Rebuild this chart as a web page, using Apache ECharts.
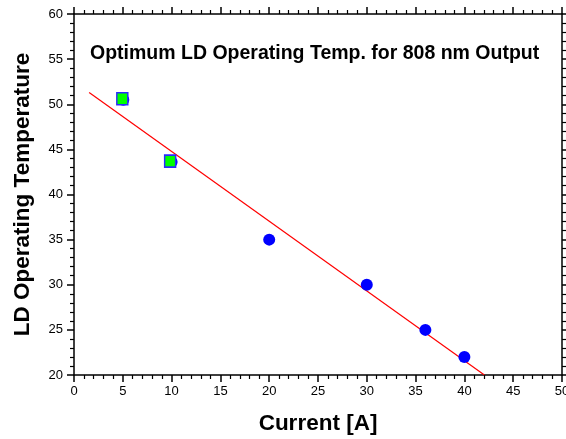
<!DOCTYPE html>
<html>
<head>
<meta charset="utf-8">
<script src="https://cdn.jsdelivr.net/npm/echarts@6/dist/echarts.min.js"></script>
<style>
    html, body { margin: 0; padding: 0; background: #fff; }
    #ldChart { width: 566px; height: 439px; }
</style>
</head>
<body>
<div id="ldChart"></div>
<script>
// 测量点 (电流, 温度)
var circlePoints = [[5.05, 50.5], [10, 43.6], [20, 35], [30, 30], [36, 25], [40, 22]];
var squarePoints = [[4.95, 50.6], [9.85, 43.7]];
// 拟合直线两端
var fitLine = [[1.55, 51.3], [42.05, 20]];
var xTicks = [0, 50, 5];
var yTicks = [20, 60, 5];

var chartTitle = 'Optimum LD Operating Temp. for 808 nm Output';
var xName = 'Current [A]';
var yName = 'LD Operating Temperature';

function ldTempChart() {
    var chart = echarts.init(document.getElementById('ldChart'));
    var font = 'Liberation Sans, Arial, sans-serif';

    function makeAxis(pos, range, showLabel, name) {
        return {
            type: 'value',
            position: pos,
            min: range[0],
            max: range[1],
            interval: range[2],
            name: name || '',
            nameLocation: 'middle',
            nameGap: (pos == 'bottom') ? 37 : 40,
            nameTextStyle: {
                fontFamily: font,
                fontSize: 22.5,
                fontWeight: 'bold',
                color: '#000'
            },
            axisLine: {
                show: true,
                onZero: false,
                lineStyle: { color: '#000', width: 1.5 }
            },
            axisTick: {
                show: true,
                inside: false,
                length: 7,
                lineStyle: { color: '#000', width: 1.5 }
            },
            minorTick: {
                show: true,
                splitNumber: 5,
                length: 4,
                lineStyle: { color: '#000', width: 1.2 }
            },
            splitLine: { show: false },
            minorSplitLine: { show: false },
            axisLabel: {
                show: showLabel,
                fontFamily: font,
                fontSize: 13,
                color: '#000',
                margin: (pos == 'bottom') ? 10 : 11
            }
        };
    }

    var option = {
        backgroundColor: '#fff',
        animation: false,
        grid: {
            left: 74,
            right: 4,
            top: 14,
            bottom: 64,
            containLabel: false,
            outerBoundsMode: 'none'
        },
        title: {
            text: chartTitle,
            left: 85,
            top: 39,
            textStyle: {
                fontFamily: font,
                fontSize: 19.5,
                fontWeight: 'bold',
                color: '#000'
            }
        },
        xAxis: [
            makeAxis('bottom', xTicks, true, xName),
            makeAxis('top', xTicks, false)
        ],
        yAxis: [
            makeAxis('left', yTicks, true, yName),
            makeAxis('right', yTicks, false)
        ],
        series: [{
            type: 'line',
            data: fitLine,
            showSymbol: false,
            symbol: 'none',
            lineStyle: { color: '#ff0000', width: 1.2 },
            z: 2
        }, {
            type: 'scatter',
            data: circlePoints,
            symbol: 'circle',
            symbolSize: 12,
            itemStyle: { color: '#0000ff', opacity: 1 },
            z: 3
        }, {
            type: 'scatter',
            data: squarePoints,
            symbol: 'rect',
            symbolSize: [11, 12],
            itemStyle: {
                color: '#00ff00',
                borderColor: '#2a2aff',
                borderWidth: 1.5,
                opacity: 1
            },
            z: 4
        }]
    };
    chart.setOption(option);
    return chart;
}

ldTempChart();
</script>
</body>
</html>
